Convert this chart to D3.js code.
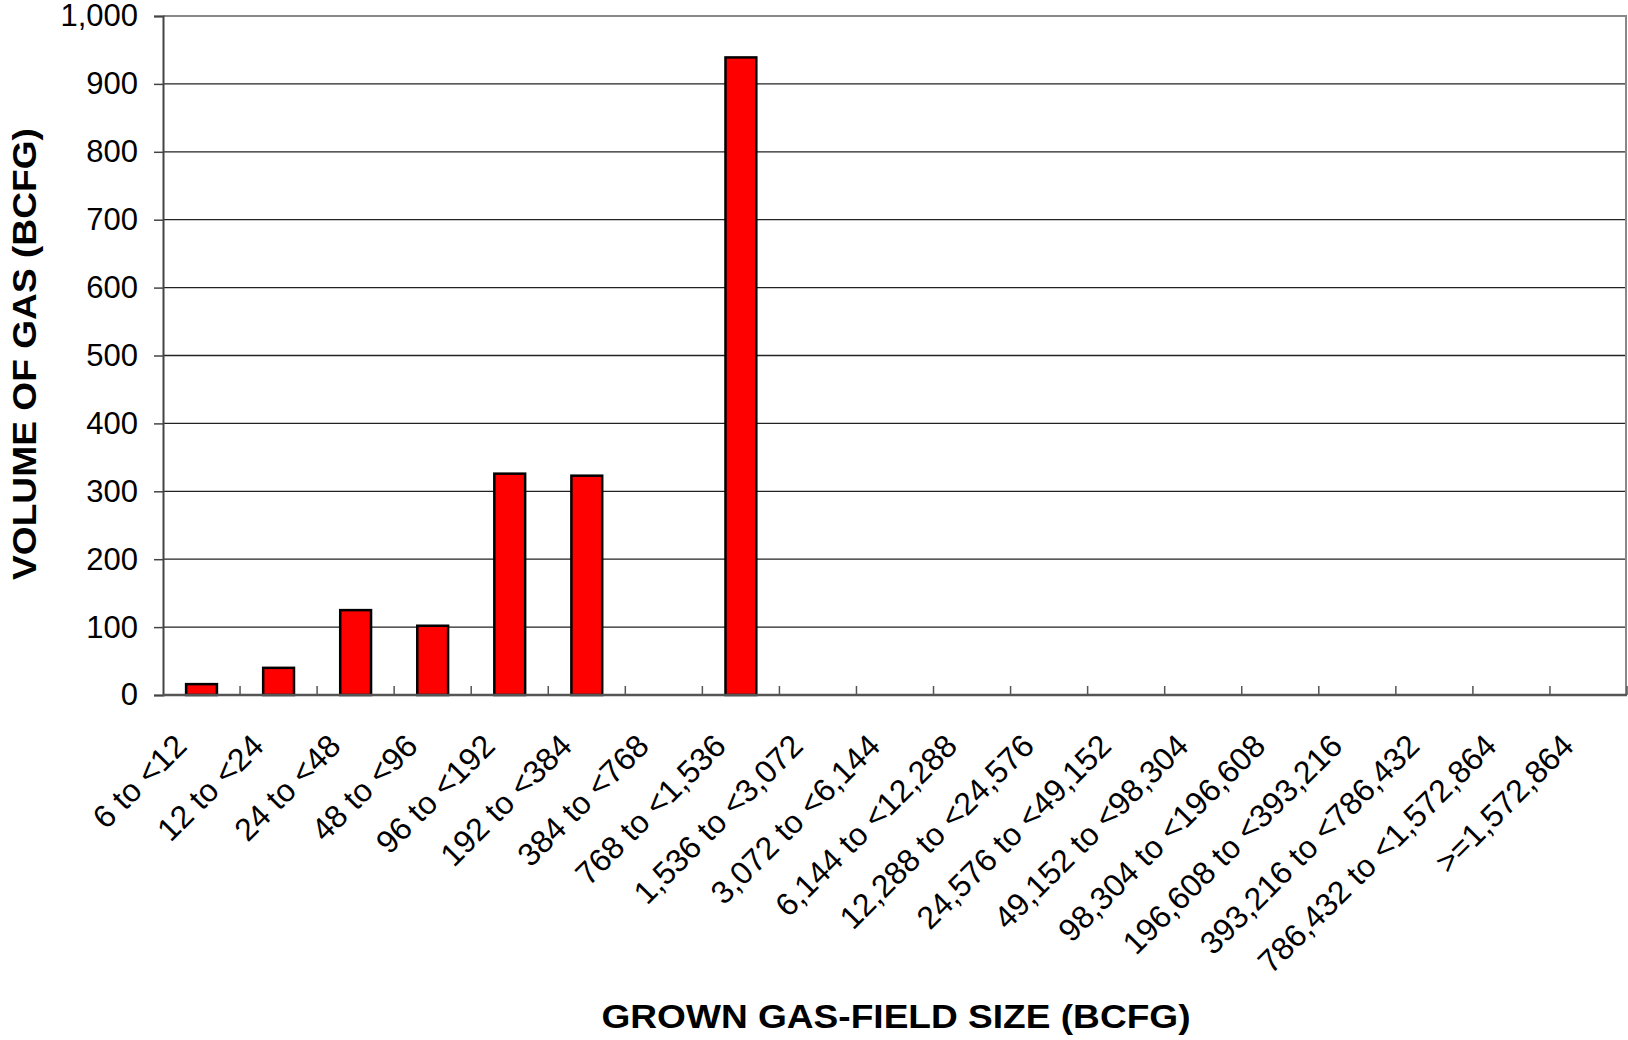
<!DOCTYPE html>
<html lang="en">
<head>
    <meta charset="UTF-8">
    <title>Grown gas-field size</title>
    <script type="text/javascript" src="https://d3js.org/d3.v7.min.js"></script>
    <style>
        body{
            margin: 0;
            background-color: white;
        }
        text{
            font-family: "Liberation Sans", Arial, sans-serif;
            fill: black;
        }
    </style>
</head>
<body>
    <script type="text/javascript">
        // size classes (BCFG)
        var categories = ["6 to <12", "12 to <24", "24 to <48", "48 to <96", "96 to <192",
            "192 to <384", "384 to <768", "768 to <1,536", "1,536 to <3,072", "3,072 to <6,144",
            "6,144 to <12,288", "12,288 to <24,576", "24,576 to <49,152", "49,152 to <98,304",
            "98,304 to <196,608", "196,608 to <393,216", "393,216 to <786,432",
            "786,432 to <1,572,864", ">=1,572,864"];
        // volume of gas per class
        var volumes = [16, 40, 125, 102, 326, 323, 0, 939, 0, 0, 0, 0, 0, 0, 0, 0, 0, 0, 0];
        var yTicks = [0, 100, 200, 300, 400, 500, 600, 700, 800, 900, 1000];

        var width = 1628;
        var height = 1040;
        // plot area edges
        var pLeft = 163, pRight = 1627, pTop = 16, pBottom = 695;

        var svg = d3.select("body").append("svg")
                .attr("width", width)
                .attr("height", height);

        var x = d3.scaleBand()
                .domain(categories)
                .range([pLeft, pRight])
                .paddingInner(0.6)
                .paddingOuter(0.3);
        // one category slot, ticks sit between slots
        var step = (pRight - pLeft) / categories.length;

        var y = d3.scaleLinear()
                .domain([0, 1000])
                .range([pBottom, pTop]);

        // grid lines
        svg.append("g")
            .selectAll("line")
            .data(yTicks.filter(function(d){ return d > 0 && d < 1000; }))
            .enter()
            .append("line")
            .attr("x1", pLeft)
            .attr("x2", pRight)
            .attr("y1", function(d){ return y(d); })
            .attr("y2", function(d){ return y(d); })
            .attr("stroke", "#222")
            .attr("stroke-width", 1.3);

        // plot frame top / right
        svg.append("line")
            .attr("x1", pLeft).attr("x2", pRight)
            .attr("y1", y(1000)).attr("y2", y(1000))
            .attr("stroke", "#888").attr("stroke-width", 2);
        svg.append("line")
            .attr("x1", pRight - 1).attr("x2", pRight - 1)
            .attr("y1", pTop).attr("y2", pBottom)
            .attr("stroke", "#888").attr("stroke-width", 2);

        // bars (empty classes have no bar)
        var barData = categories.map(function(c, i){ return {cat: c, v: volumes[i]}; })
                .filter(function(d){ return d.v > 0; });
        svg.append("g")
            .selectAll("rect")
            .data(barData)
            .enter()
            .append("rect")
            .attr("x", function(d){ return x(d.cat); })
            .attr("y", function(d){ return y(d.v); })
            .attr("width", x.bandwidth())
            .attr("height", function(d){ return pBottom - y(d.v); })
            .attr("fill", "#ff0000")
            .attr("stroke", "black")
            .attr("stroke-width", 2.5);

        // y axis
        var yAxis = d3.axisLeft(y)
                .tickValues(yTicks)
                .tickSize(9)
                .tickPadding(16)
                .tickFormat(d3.format(","));
        var gy = svg.append("g")
                .attr("transform", "translate(" + pLeft + ",0)")
                .call(yAxis);
        gy.select(".domain").attr("stroke", "#444").attr("stroke-width", 2);
        gy.selectAll(".tick line").attr("stroke", "#444").attr("stroke-width", 1.5);
        gy.selectAll(".tick text")
            .attr("font-size", "31px")
            .style("font-family", "'Liberation Sans', Arial, sans-serif");

        // x axis line and ticks between categories
        svg.append("line")
            .attr("x1", pLeft).attr("x2", pRight)
            .attr("y1", pBottom).attr("y2", pBottom)
            .attr("stroke", "#555").attr("stroke-width", 2.5);
        svg.append("g")
            .selectAll("line")
            .data(d3.range(1, categories.length + 1))
            .enter()
            .append("line")
            .attr("x1", function(d){ return pLeft + d * step; })
            .attr("x2", function(d){ return pLeft + d * step; })
            .attr("y1", pBottom)
            .attr("y2", pBottom - 9)
            .attr("stroke", "#555")
            .attr("stroke-width", 1.5);

        // rotated category labels
        svg.append("g")
            .selectAll("text")
            .data(categories)
            .enter()
            .append("text")
            .attr("transform", function(d){
                return "translate(" + (x(d) + x.bandwidth() / 2 - 13) + ",748) rotate(-45)";
            })
            .attr("text-anchor", "end")
            .attr("font-size", "32px")
            .text(function(d){ return d; });

        // axis titles
        svg.append("text")
            .attr("x", 896)
            .attr("y", 1028)
            .attr("text-anchor", "middle")
            .attr("font-size", "33px")
            .attr("font-weight", "bold")
            .attr("textLength", 589)
            .attr("lengthAdjust", "spacingAndGlyphs")
            .text("GROWN GAS-FIELD SIZE (BCFG)");

        svg.append("text")
            .attr("transform", "translate(36,354) rotate(-90)")
            .attr("text-anchor", "middle")
            .attr("font-size", "34px")
            .attr("font-weight", "bold")
            .attr("textLength", 452)
            .attr("lengthAdjust", "spacingAndGlyphs")
            .text("VOLUME OF GAS (BCFG)");
    </script>
</body>
</html>
